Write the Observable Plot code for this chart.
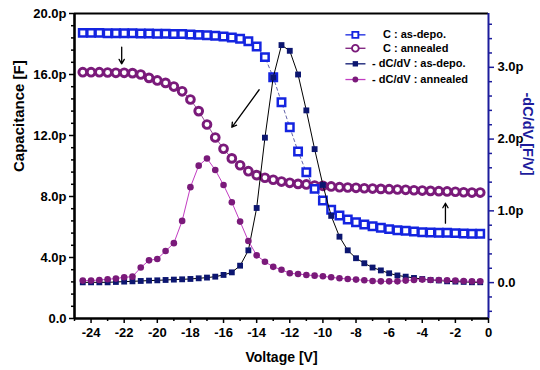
<!DOCTYPE html>
<html><head><meta charset="utf-8">
<script src="https://cdn.jsdelivr.net/npm/d3@7"></script>
<script src="https://cdn.jsdelivr.net/npm/@observablehq/plot@0.6"></script>
<style>body{margin:0;background:#fff}</style>
</head><body><div id="chart"></div>
<script>
const voltage = [-24.5,-24,-23.5,-23,-22.5,-22,-21.5,-21,-20.5,-20,-19.5,-19,-18.5,-18,-17.5,-17,-16.5,-16,-15.5,-15,-14.5,-14,-13.5,-13,-12.5,-12,-11.5,-11,-10.5,-10,-9.5,-9,-8.5,-8,-7.5,-7,-6.5,-6,-5.5,-5,-4.5,-4,-3.5,-3,-2.5,-2,-1.5,-1,-0.5];
// Capacitance [pF]
const cAsDepo = [18.73,18.73,18.73,18.71,18.71,18.71,18.71,18.69,18.69,18.67,18.67,18.65,18.65,18.62,18.60,18.58,18.54,18.49,18.43,18.34,18.18,17.84,17.14,15.82,14.18,12.54,10.95,9.59,8.50,7.74,7.13,6.75,6.49,6.31,6.16,6.05,5.95,5.86,5.79,5.75,5.70,5.66,5.64,5.62,5.62,5.60,5.58,5.56,5.56];
const cAnnealed = [16.15,16.15,16.15,16.13,16.11,16.11,16.09,16.00,15.78,15.61,15.45,15.21,14.90,14.36,13.60,12.72,11.87,11.13,10.50,10.05,9.66,9.40,9.23,9.10,8.98,8.90,8.83,8.79,8.72,8.70,8.66,8.61,8.59,8.57,8.54,8.52,8.50,8.48,8.46,8.44,8.41,8.39,8.37,8.35,8.33,8.31,8.28,8.26,8.26];
// -dC/dV [pF/V]
const dAsDepo = [0.004,0.004,0.004,0.004,0.009,0.014,0.018,0.023,0.028,0.032,0.037,0.042,0.046,0.051,0.060,0.070,0.083,0.107,0.143,0.236,0.45,1.04,2.02,2.86,3.31,3.23,2.90,2.40,1.86,1.36,0.93,0.64,0.45,0.34,0.27,0.21,0.17,0.13,0.10,0.083,0.065,0.05,0.037,0.03,0.018,0.014,0.01,0.005,0.005];
const dAnnealed = [0.028,0.028,0.037,0.046,0.056,0.074,0.083,0.21,0.31,0.33,0.44,0.55,0.86,1.33,1.63,1.73,1.57,1.36,1.12,0.85,0.58,0.38,0.29,0.22,0.18,0.13,0.12,0.107,0.097,0.088,0.074,0.06,0.051,0.042,0.032,0.023,0.018,0.018,0.018,0.028,0.037,0.042,0.037,0.037,0.032,0.028,0.023,0.018,0.018];

const xMajorTicks = [-24,-22,-20,-18,-16,-14,-12,-10,-8,-6,-4,-2,0];
const xMinorTicks = [-25,-23,-21,-19,-17,-15,-13,-11,-9,-7,-5,-3,-1];
const yLeftMajor = [0,4,8,12,16,20];
const yLeftMinor = [0.8,1.6,2.4,3.2,4.8,5.6,6.4,7.2,8.8,9.6,10.4,11.2,12.8,13.6,14.4,15.2,16.8,17.6,18.4,19.2];
const yRightMajor = [0,1,2,3];
const yRightMinor = [-0.4,-0.2,0.2,0.4,0.6,0.8,1.2,1.4,1.6,1.8,2.2,2.4,2.6,2.8,3.2,3.4,3.6];
const seriesLabels = ["C : as-depo.", "C : annealed", "- dC/dV : as-depo.", "- dC/dV : annealed"];

const D_MIN = -0.5, D_MAX = 3.75;
const toLeft = d => (d - D_MIN) / (D_MAX - D_MIN) * 20;
const fromLeft = y => y / 20 * (D_MAX - D_MIN) + D_MIN;

const blue = "#1424e0", purple = "#7a1a7a", navy = "#0c1670", magenta = "#c23cc2", axisNavy = "#1c1c9c";

const rows = voltage.map((v, i) => ({v, cA: cAsDepo[i], cN: cAnnealed[i], dA: toLeft(dAsDepo[i]), dN: toLeft(dAnnealed[i])}));

const legend = [
  {y: 18.6, tx: -6.37, label: seriesLabels[0], color: blue, line: blue, symbol: "square", fill: "white", r: 3.2, sw: 1.9},
  {y: 17.72, tx: -6.37, label: seriesLabels[1], color: purple, line: purple, symbol: "circle", fill: "white", r: 3.2, sw: 1.9},
  {y: 16.7, tx: -7.03, label: seriesLabels[2], color: navy, line: navy, symbol: "square", fill: navy, r: 2.6, sw: 0},
  {y: 15.67, tx: -7.03, label: seriesLabels[3], color: purple, line: magenta, symbol: "circle", fill: purple, r: 2.4, sw: 0}
];

const fmtLeft = d => d === 0 ? "0.0" : d.toFixed(1) + "p";
const fmtRight = d => { const v = Math.round(fromLeft(d) * 10) / 10; return v === 0 ? "0.0" : v.toFixed(1) + "p"; };

const chart = Plot.plot({
  width: 540, height: 370,
  marginLeft: 74, marginRight: 52, marginTop: 13, marginBottom: 52,
  x: {domain: [-25, 0], label: null},
  y: {domain: [0, 20], label: null},
  style: {fontFamily: "'Liberation Sans', Arial, sans-serif", fontWeight: "bold", background: "white", color: "black", overflow: "visible"},
  marks: [
    // axes
    Plot.axisX({ticks: xMinorTicks, tickSize: 3, tickFormat: () => "", stroke: "black", strokeWidth: 1.5}),
    Plot.axisX({ticks: xMajorTicks, tickSize: 5, tickPadding: 4, tickFormat: d => String(d), fontSize: 13, fontWeight: "bold", stroke: "black", fill: "black", strokeWidth: 1.5}),
    Plot.axisY({ticks: yLeftMinor, tickSize: 3, tickFormat: () => "", stroke: "black", strokeWidth: 1.5}),
    Plot.axisY({ticks: yLeftMajor, tickSize: 5, tickPadding: 3, tickFormat: fmtLeft, fontSize: 13, fontWeight: "bold", stroke: "black", fill: "black", strokeWidth: 1.5}),
    Plot.axisY({anchor: "right", ticks: yRightMinor.map(toLeft), tickSize: 3, tickFormat: () => "", stroke: axisNavy, strokeWidth: 1.5}),
    Plot.axisY({anchor: "right", ticks: yRightMajor.map(toLeft), tickSize: 5, tickPadding: 4, tickFormat: fmtRight, fontSize: 13, fontWeight: "bold", stroke: axisNavy, fill: "black", strokeWidth: 1.5}),
    // frame
    Plot.ruleY([20], {stroke: "black", strokeWidth: 2}),
    Plot.ruleX([0], {stroke: axisNavy, strokeWidth: 2}),
    Plot.ruleY([0], {stroke: "black", strokeWidth: 2.6}),
    Plot.ruleX([-25], {stroke: "black", strokeWidth: 2.6}),
    // axis titles
    Plot.text(["Capacitance [F]"], {text: d => d, frameAnchor: "left", dx: -55, dy: 6, rotate: -90, fontSize: 15, fontWeight: "bold", fill: "black"}),
    Plot.text(["-dC/dV [F/V]"], {text: d => d, frameAnchor: "right", dx: 39, dy: 9.5, rotate: 90, fontSize: 14.5, fontWeight: "bold", fill: axisNavy}),
    Plot.text(["Voltage [V]"], {text: d => d, frameAnchor: "bottom", dy: 43, fontSize: 14, fontWeight: "bold", fill: "black"}),
    // series: C
    Plot.line(rows, {x: "v", y: "cA", stroke: "#3a3a90", strokeWidth: 0.8, strokeDasharray: "3,3"}),
    Plot.line(rows, {x: "v", y: "cN", stroke: purple, strokeWidth: 0.8}),
    Plot.dot(rows, {x: "v", y: "cN", symbol: "circle", r: 3.9, stroke: purple, strokeWidth: 2.9, fill: "white"}),
    Plot.dot(rows, {x: "v", y: "cA", symbol: "square", r: 4.2, stroke: blue, strokeWidth: 2.5, fill: "white"}),
    // series: -dC/dV
    Plot.line(rows, {x: "v", y: "dA", stroke: "black", strokeWidth: 1}),
    Plot.line(rows, {x: "v", y: "dN", stroke: magenta, strokeWidth: 1}),
    Plot.dot(rows, {x: "v", y: "dA", symbol: "square", r: 3.3, fill: navy, stroke: "none"}),
    Plot.dot(rows, {x: "v", y: "dN", symbol: "circle", r: 3.3, fill: purple, stroke: "none"}),
    // annotation arrows
    Plot.arrow([{x1: -22.15, y1: 17.8, x2: -22.15, y2: 16.7}], {x1: "x1", y1: "y1", x2: "x2", y2: "y2", stroke: "black", strokeWidth: 1.3, headLength: 6}),
    Plot.arrow([{x1: -13.85, y1: 15.0, x2: -15.5, y2: 12.54}], {x1: "x1", y1: "y1", x2: "x2", y2: "y2", stroke: "black", strokeWidth: 1.3, headLength: 6}),
    Plot.arrow([{x1: -2.6, y1: 6.25, x2: -2.6, y2: 7.56}], {x1: "x1", y1: "y1", x2: "x2", y2: "y2", stroke: "black", strokeWidth: 1.3, headLength: 6}),
    // legend
    Plot.link(legend, {x1: -8.64, x2: -7.43, y1: "y", y2: "y", stroke: "line", strokeWidth: 1.3}),
    Plot.dot(legend, {x: -8.04, y: "y", symbol: "symbol", r: "r", fill: "fill", stroke: "color", strokeWidth: "sw"}),
    Plot.text(legend, {x: "tx", y: "y", text: "label", textAnchor: "start", fontSize: 11, fontWeight: "bold", fill: "black"})
  ]
});
document.getElementById("chart").appendChild(chart);
</script>
</body></html>
